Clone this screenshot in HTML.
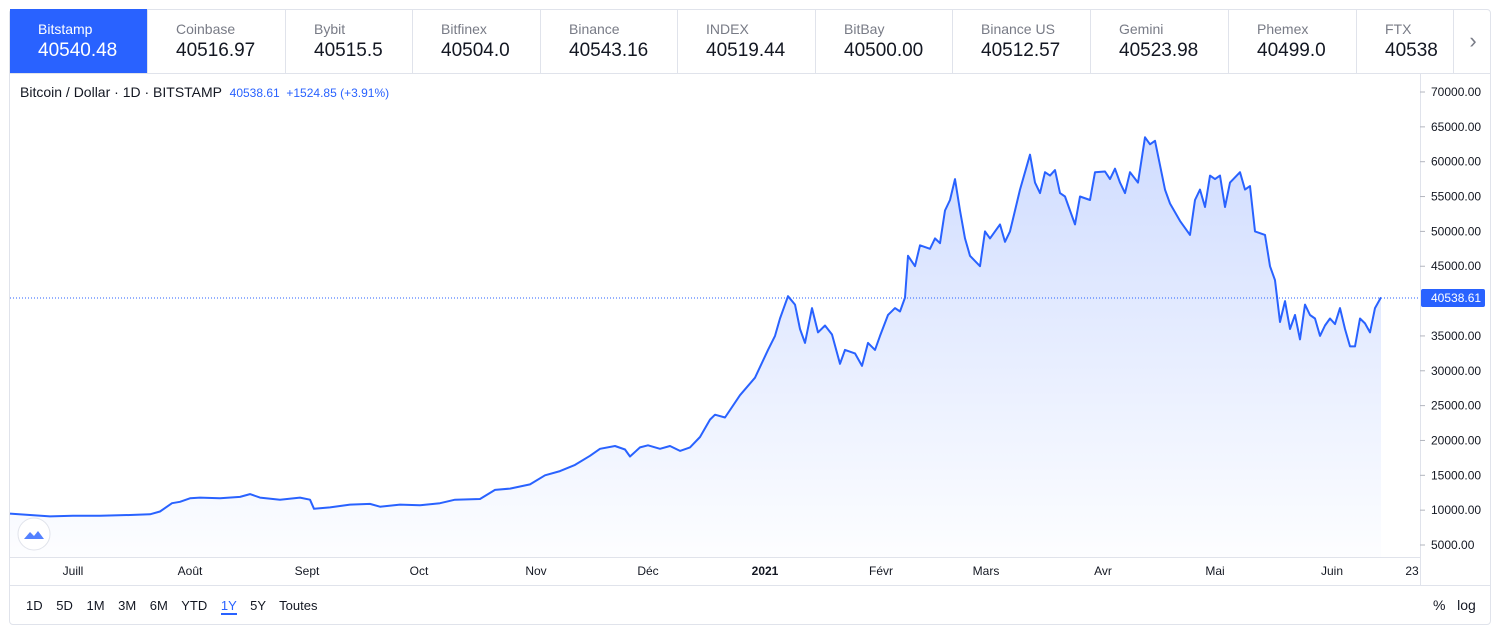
<!DOCTYPE html><html><head><meta charset="utf-8"><style>
body{margin:0;width:1505px;height:638px;background:#fff;font-family:"Liberation Sans",sans-serif;position:relative;overflow:hidden}
.box{position:absolute;left:9px;top:9px;width:1482px;height:616px;border:1px solid #e0e3eb;border-radius:4px;box-sizing:border-box}
.tab{position:absolute;top:9px;height:64px;border-right:1px solid #e0e3eb;box-sizing:border-box;padding:12px 0 0 28px;overflow:hidden}
.tab .n{font-size:14px;color:#787b86}.tab .v{font-size:19px;color:#131722;margin-top:3px}
.tab.a{background:#2962ff}.tab.a .n,.tab.a .v{color:#fff}
.hline{position:absolute;left:9px;width:1482px;height:1px;background:#e0e3eb}
.t{position:absolute;font-size:12px;color:#131722}
</style></head><body>
<div class="box"></div>
<div id="tabs"></div>
<div class="hline" style="top:73px"></div>
<div class="hline" style="top:557px;width:1411px"></div>
<div class="hline" style="top:585px"></div>
<div style="position:absolute;left:1420px;top:73px;width:1px;height:512px;background:#e0e3eb"></div>
<div class="t" style="left:20px;top:84px;font-size:14px">Bitcoin / Dollar · 1D · BITSTAMP <span style="color:#2962ff;font-size:12px;margin-left:4px">40538.61 &nbsp;+1524.85 (+3.91%)</span></div>
<svg width="1505" height="638" style="position:absolute;left:0;top:0">
<defs><linearGradient id="g" x1="0" y1="0" x2="0" y2="1"><stop offset="0" stop-color="#2962ff" stop-opacity="0.22"/><stop offset="1" stop-color="#2962ff" stop-opacity="0.01"/></linearGradient></defs>
<path id="area" fill="url(#g)"/>
<line x1="10" x2="1420" y1="298" y2="298" stroke="#2962ff" stroke-dasharray="1,2" stroke-width="1"/>
<polyline id="ln" fill="none" stroke="#2962ff" stroke-width="2" stroke-linejoin="round"/>
<g id="ax" font-size="12" fill="#131722" font-family="Liberation Sans"></g>
<rect x="1421" y="289" width="64" height="18" fill="#2962ff" rx="2"/>
<text x="1431" y="302" font-size="12" fill="#fff" font-family="Liberation Sans">40538.61</text>
<circle cx="34" cy="534" r="16" fill="#fff" stroke="#e0e3eb"/>
<path d="M24 539 l6-7 4 4 4-5 6 8 z" fill="#2962ff" opacity=".8"/>
</svg>
<div class="t" style="left:26px;top:598px;font-size:13px;word-spacing:10px">1D 5D 1M 3M 6M YTD <span style="color:#2962ff;border-bottom:2px solid #2962ff">1Y</span> 5Y Toutes</div>
<div class="t" style="left:1433px;top:597px;font-size:14px">% &nbsp; log</div>
<div style="position:absolute;left:1455px;top:9px;width:36px;height:64px;text-align:center;line-height:64px;color:#787b86;font-size:22px">›</div>
<script>
var tabs=[["Bitstamp","40540.48"],["Coinbase","40516.97"],["Bybit","40515.5"],["Bitfinex","40504.0"],["Binance","40543.16"],["INDEX","40519.44"],["BitBay","40500.00"],["Binance US","40512.57"],["Gemini","40523.98"],["Phemex","40499.0"],["FTX","40538"]];
var L=[10,148,286,413,541,678,816,953,1091,1229,1357,1454];
var h="";tabs.forEach(function(t,i){var l=L[i],w=L[i+1]-L[i];h+='<div class="tab'+(i==0?' a':'')+'" style="left:'+l+'px;width:'+w+'px"><div class="n">'+t[0]+'</div><div class="v">'+t[1]+'</div></div>'});
document.getElementById("tabs").innerHTML=h;
var d=[10,9500,30,9300,50,9100,73,9200,100,9200,130,9300,150,9400,160,9800,172,11000,180,11200,190,11700,200,11800,220,11700,240,11900,250,12300,260,11800,280,11500,300,11800,310,11500,314,10200,330,10400,350,10800,370,10900,380,10500,400,10800,420,10700,440,11000,455,11500,480,11600,495,12900,510,13100,530,13700,545,15000,560,15600,575,16500,590,17800,600,18800,615,19200,625,18700,630,17700,640,19000,648,19300,660,18800,670,19200,680,18500,690,19000,700,20500,710,23000,715,23700,725,23300,740,26500,755,29000,768,33000,775,35000,780,37500,788,40700,795,39500,800,36000,805,34000,812,39000,818,35500,825,36500,832,35200,840,31000,845,33000,855,32500,862,30700,868,34000,875,33000,880,35000,888,38000,895,39000,900,38500,905,40500,908,46500,915,45000,920,48000,930,47500,935,49000,940,48300,945,53000,950,54500,955,57500,960,53000,965,49000,970,46500,980,45000,985,50000,990,49000,1000,51000,1005,48500,1010,50000,1020,56000,1025,58500,1030,61000,1035,57000,1040,55500,1045,58500,1050,58000,1055,58800,1060,55500,1065,55000,1070,53000,1075,51000,1080,55000,1090,54500,1095,58500,1105,58600,1110,57500,1115,59000,1120,57000,1125,55500,1130,58500,1138,57000,1145,63500,1150,62500,1155,63000,1160,59500,1165,56000,1170,54000,1180,51500,1190,49500,1195,54500,1200,56000,1205,53500,1210,58000,1215,57500,1220,58000,1225,53500,1230,57000,1240,58500,1245,56000,1250,56500,1255,50000,1265,49500,1270,45000,1275,43000,1280,37000,1285,40000,1290,36000,1295,38000,1300,34500,1305,39500,1310,38000,1315,37500,1320,35000,1325,36500,1330,37500,1335,36700,1340,39000,1345,36000,1350,33500,1355,33500,1360,37500,1365,36800,1370,35500,1375,39000,1381,40538];
function Y(v){return 545-(v-5000)*0.006969}
var p=[];for(var i=0;i<d.length;i+=2)p.push(d[i]+","+Y(d[i+1]).toFixed(1));
document.getElementById("ln").setAttribute("points",p.join(" "));
document.getElementById("area").setAttribute("d","M"+p.join(" L")+" L1381,557 L10,557 Z");
var s="";for(var v=5000;v<=70000;v+=5000){var y=Y(v);if(Math.abs(y-298)<10)continue;s+='<line x1="1420" x2="1425" y1="'+y+'" y2="'+y+'" stroke="#b2b5be"/><text x="1431" y="'+(y+4)+'">'+v+'.00</text>'}
[["Juill",73],["Août",190],["Sept",307],["Oct",419],["Nov",536],["Déc",648],["2021",765],["Févr",881],["Mars",986],["Avr",1103],["Mai",1215],["Juin",1332],["23",1412]].forEach(function(m){s+='<text x="'+m[1]+'" y="575" text-anchor="middle"'+(m[0]=="2021"?' font-weight="bold"':'')+'>'+m[0]+'</text>'});
document.getElementById("ax").innerHTML=s;
</script>
</body></html>
